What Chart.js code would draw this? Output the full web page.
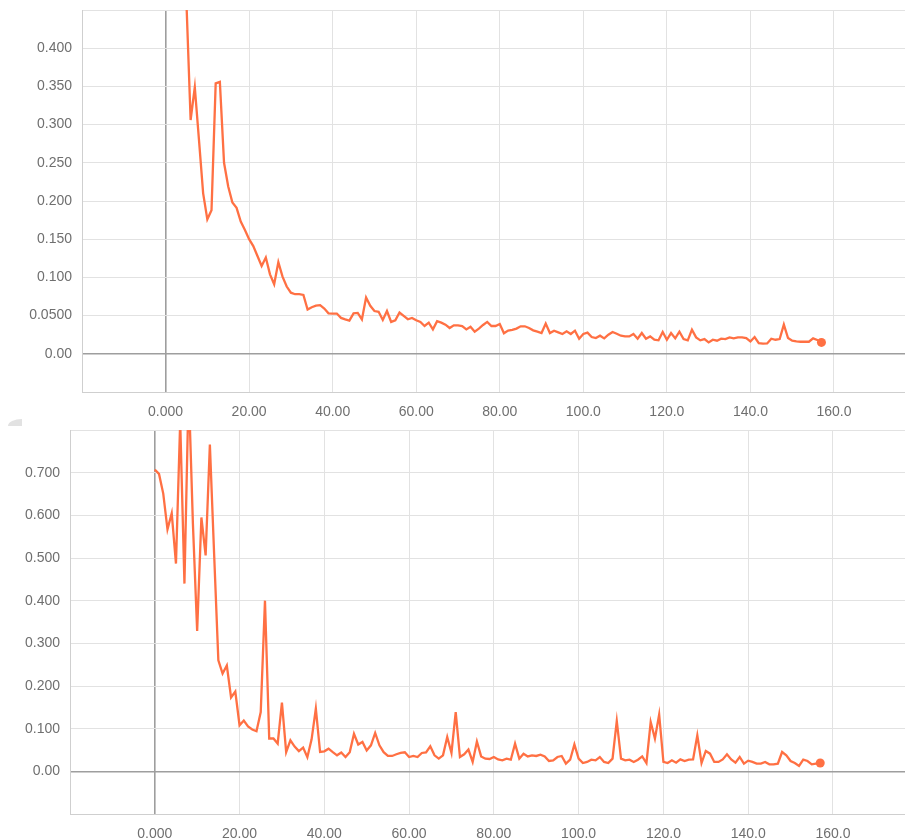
<!DOCTYPE html>
<html>
<head>
<meta charset="utf-8">
<script src="https://cdn.jsdelivr.net/npm/chart.js@4.4.1/dist/chart.umd.min.js"></script>
<style>
    body { margin: 0; background: #fff; width: 905px; height: 840px; overflow: hidden; position: relative; }
    canvas { position: absolute; left: 0; }
    #chartTop { top: 0; }
    #chartBottom { top: 420px; }
    .corner { position: absolute; left: 8px; top: 419px; width: 14px; height: 7px; background: #e2e2e2; border-top-left-radius: 14px 7px; }
</style>
</head>
<body>
<canvas id="chartTop" width="905" height="420"></canvas>
<div class="corner"></div>
<canvas id="chartBottom" width="905" height="420"></canvas>
<script>
// steps (x axis) shared by both runs
const steps = [
    0, 1, 2, 3, 4, 5, 6, 7, 8, 9, 10, 11, 12, 13, 14, 15, 16, 17, 18, 19,
    20, 21, 22, 23, 24, 25, 26, 27, 28, 29, 30, 31, 32, 33, 34, 35, 36, 37, 38, 39,
    40, 41, 42, 43, 44, 45, 46, 47, 48, 49, 50, 51, 52, 53, 54, 55, 56, 57, 58, 59,
    60, 61, 62, 63, 64, 65, 66, 67, 68, 69, 70, 71, 72, 73, 74, 75, 76, 77, 78, 79,
    80, 81, 82, 83, 84, 85, 86, 87, 88, 89, 90, 91, 92, 93, 94, 95, 96, 97, 98, 99,
    100, 101, 102, 103, 104, 105, 106, 107, 108, 109, 110, 111, 112, 113, 114, 115, 116, 117, 118, 119,
    120, 121, 122, 123, 124, 125, 126, 127, 128, 129, 130, 131, 132, 133, 134, 135, 136, 137, 138, 139,
    140, 141, 142, 143, 144, 145, 146, 147, 148, 149, 150, 151, 152, 153, 154, 155, 156, 157
];

// upper chart values
const topValues = [
    0.70, 0.62, 0.56, 0.52, 0.50, 0.46, 0.306, 0.349, 0.28, 0.21,
    0.176, 0.188, 0.354, 0.356, 0.25, 0.219, 0.198, 0.191, 0.173, 0.162,
    0.150, 0.141, 0.128, 0.115, 0.126, 0.104, 0.091, 0.120, 0.101, 0.088,
    0.080, 0.078, 0.078, 0.077, 0.058, 0.061, 0.063, 0.0636, 0.0592, 0.053,
    0.0527, 0.0527, 0.047, 0.045, 0.0435, 0.053, 0.0535, 0.045, 0.0737, 0.0628,
    0.056, 0.055, 0.0443, 0.056, 0.0417, 0.0439, 0.054, 0.0496, 0.0452, 0.047,
    0.0439, 0.0417, 0.0364, 0.0408, 0.032, 0.0426, 0.0408, 0.0382, 0.0338, 0.0373,
    0.0373, 0.0364, 0.032, 0.0355, 0.029, 0.033, 0.0377, 0.0417, 0.0364, 0.0364,
    0.039, 0.0268, 0.0303, 0.0312, 0.033, 0.036, 0.036, 0.0338, 0.0307, 0.029,
    0.0272, 0.0395, 0.0272, 0.0303, 0.0281, 0.0259, 0.0294, 0.0259, 0.0303, 0.0198,
    0.0259, 0.0277, 0.022, 0.0206, 0.0237, 0.0202, 0.025, 0.0285, 0.0263, 0.0237,
    0.0228, 0.0228, 0.0259, 0.0198, 0.0272, 0.0198, 0.0228, 0.0184, 0.0176, 0.0285,
    0.0184, 0.0272, 0.0202, 0.029, 0.0193, 0.0176, 0.0316, 0.0215, 0.0176, 0.0193,
    0.0149, 0.0184, 0.0171, 0.0198, 0.0193, 0.0215, 0.0202, 0.0215, 0.0215, 0.0206,
    0.0162, 0.022, 0.014, 0.0132, 0.0136, 0.0198, 0.0184, 0.0193, 0.0382, 0.0206,
    0.0171, 0.0162, 0.0158, 0.0158, 0.0158, 0.0202, 0.018, 0.0149
];

// lower chart values
const bottomValues = [
    0.707, 0.697, 0.651, 0.567, 0.605, 0.487, 0.82, 0.44, 0.90, 0.58,
    0.329, 0.595, 0.506, 0.766, 0.51, 0.26, 0.229, 0.248, 0.173, 0.187,
    0.108, 0.119, 0.105, 0.098, 0.094, 0.139, 0.40, 0.077, 0.077, 0.065,
    0.161, 0.045, 0.0726, 0.058, 0.0475, 0.0555, 0.033, 0.075, 0.147, 0.0453,
    0.047, 0.053, 0.045, 0.0375, 0.044, 0.0336, 0.045, 0.088, 0.063, 0.069,
    0.049, 0.061, 0.09, 0.061, 0.045, 0.036, 0.036, 0.040, 0.043, 0.0445,
    0.0336, 0.036, 0.0336, 0.043, 0.0445, 0.0586, 0.0375, 0.0297, 0.0375, 0.0805,
    0.043, 0.139, 0.0336, 0.040, 0.051, 0.022, 0.070, 0.035, 0.0297, 0.029,
    0.0336, 0.028, 0.0258, 0.0297, 0.0273, 0.0648, 0.0297, 0.0414, 0.035, 0.0375,
    0.036, 0.039, 0.035, 0.0242, 0.0258, 0.0336, 0.036, 0.018, 0.0273, 0.063,
    0.0297, 0.0195, 0.022, 0.0273, 0.0258, 0.0336, 0.022, 0.0195, 0.0297, 0.118,
    0.0297, 0.0258, 0.0273, 0.022, 0.0273, 0.035, 0.0195, 0.1156, 0.0766, 0.133,
    0.022, 0.0195, 0.0258, 0.0203, 0.028, 0.0242, 0.0273, 0.028, 0.0844, 0.0195,
    0.0477, 0.0414, 0.022, 0.022, 0.028, 0.0398, 0.028, 0.0203, 0.0336, 0.018,
    0.025, 0.022, 0.018, 0.018, 0.022, 0.0164, 0.0164, 0.018, 0.0453, 0.0375,
    0.0242, 0.0195, 0.0125, 0.0273, 0.0242, 0.0164, 0.018, 0.0195
];

// tick values and the labels printed next to them
const xTickValues = [-20, 0, 20, 40, 60, 80, 100, 120, 140, 160];
const xTickLabels = ['', '0.000', '20.00', '40.00', '60.00', '80.00', '100.0', '120.0', '140.0', '160.0'];

const topYTickValues = [-0.05, 0, 0.05, 0.1, 0.15, 0.2, 0.25, 0.3, 0.35, 0.4, 0.45];
const topYTickLabels = ['', '0.00', '0.0500', '0.100', '0.150', '0.200', '0.250', '0.300', '0.350', '0.400', ''];

const bottomYTickValues = [-0.1, 0, 0.1, 0.2, 0.3, 0.4, 0.5, 0.6, 0.7, 0.8];
const bottomYTickLabels = ['', '0.00', '0.100', '0.200', '0.300', '0.400', '0.500', '0.600', '0.700', ''];

const LINE_COLOR = '#ff7043';
const GRID_COLOR = '#e2e2e2';
const ZERO_COLOR = '#9e9e9e';
const TEXT_COLOR = '#6f6f6f';

function labelFor(values, labels, v) {
    const i = values.findIndex(t => Math.abs(t - v) < 1e-9);
    return i >= 0 ? labels[i] : '';
}

// no extra room for overhanging labels, the plot fills the canvas edges
function noPadding(s) {
    s.paddingTop = 0;
    s.paddingBottom = 0;
    s.paddingLeft = 0;
    s.paddingRight = 0;
}

function makeChart(canvasId, values, yMin, yMax, yTickValues, yTickLabels, axisWidth, axisHeight) {
    const last = values.length - 1;
    return new Chart(document.getElementById(canvasId), {
        type: 'line',
        data: {
            labels: steps,
            datasets: [{
                data: values,
                borderColor: LINE_COLOR,
                backgroundColor: LINE_COLOR,
                borderWidth: 2.3,
                tension: 0,
                pointRadius: ctx => ctx.dataIndex === last ? 4.5 : 0,
                pointBorderWidth: 0,
                pointHoverRadius: 0
            }]
        },
        options: {
            responsive: false,
            animation: false,
            devicePixelRatio: 1,
            layout: { autoPadding: false, padding: { top: 10, right: 0, left: 0, bottom: 0 } },
            plugins: { legend: { display: false }, tooltip: { enabled: false } },
            scales: {
                x: {
                    type: 'linear',
                    min: -20,
                    max: 177,
                    afterBuildTicks: s => { s.ticks = xTickValues.map(v => ({ value: v })); },
                    afterFit: s => { s.height = axisHeight; noPadding(s); },
                    border: { display: true, color: '#cfcfcf', width: 1 },
                    grid: {
                        drawTicks: false,
                        color: ctx => ctx.tick && ctx.tick.value === 0 ? ZERO_COLOR : GRID_COLOR,
                        lineWidth: ctx => ctx.tick && ctx.tick.value === 0 ? 1.6 : 1
                    },
                    ticks: {
                        autoSkip: false,
                        maxRotation: 0,
                        padding: 12,
                        color: TEXT_COLOR,
                        font: { family: "'Liberation Sans', Arial, sans-serif", size: 14 },
                        callback: v => labelFor(xTickValues, xTickLabels, v)
                    }
                },
                y: {
                    type: 'linear',
                    min: yMin,
                    max: yMax,
                    afterBuildTicks: s => { s.ticks = yTickValues.map(v => ({ value: v })); },
                    afterFit: s => { s.width = axisWidth; noPadding(s); },
                    border: { display: true, color: '#cfcfcf', width: 1 },
                    grid: {
                        drawTicks: false,
                        color: ctx => ctx.tick && Math.abs(ctx.tick.value) < 1e-9 ? ZERO_COLOR : GRID_COLOR,
                        lineWidth: ctx => ctx.tick && Math.abs(ctx.tick.value) < 1e-9 ? 1.6 : 1
                    },
                    ticks: {
                        autoSkip: false,
                        padding: 10,
                        color: TEXT_COLOR,
                        font: { family: "'Liberation Sans', Arial, sans-serif", size: 14 },
                        callback: v => labelFor(yTickValues, yTickLabels, v)
                    }
                }
            }
        }
    });
}

makeChart('chartTop', topValues, -0.05, 0.45, topYTickValues, topYTickLabels, 82, 28);
makeChart('chartBottom', bottomValues, -0.1, 0.8, bottomYTickValues, bottomYTickLabels, 70, 26);
</script>
</body>
</html>
